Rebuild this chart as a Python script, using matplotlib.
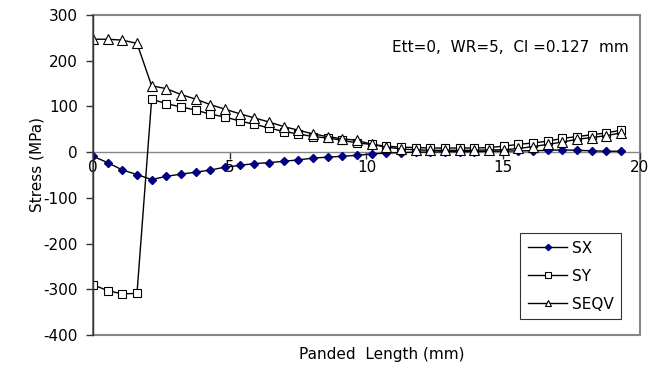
import numpy as np
import matplotlib
matplotlib.use("Agg")
import matplotlib.pyplot as plt
from matplotlib.patches import Rectangle

plt.rcParams['font.family'] = ['DejaVu Sans']
plt.rcParams['axes.unicode_minus'] = False

# Positions along the panded length (mm)
n_points = 37
length_mm = np.arange(n_points) * (19.3 / 36)

sx = [-9, -23, -39, -49, -60, -53, -48, -44, -39, -33, -29, -25, -23, -20, -17, -13, -11, -9, -7, -4,
      -2, -1, 0, 0, 1, 1, 1, 2, 2, 3, 3, 4, 5, 4, 3, 2, 2]
sy = [-290, -303, -310, -309, 116, 106, 99, 92, 83, 77, 68, 61, 53, 45, 40, 34, 31, 26, 20, 17,
      13, 11, 10, 9, 9, 9, 9, 10, 13, 17, 20, 24, 30, 34, 38, 42, 48]
seqv = [247, 247, 245, 238, 145, 139, 126, 116, 104, 94, 84, 75, 66, 56, 48, 40, 34, 29, 26, 17,
        11, 7, 5, 4, 4, 4, 4, 5, 5, 8, 12, 17, 22, 28, 32, 36, 42]

x_ticks = [0, 5, 10, 15, 20]
y_ticks = [-400, -300, -200, -100, 0, 100, 200, 300]

fig = plt.figure(figsize=(6.61, 3.74), dpi=100)
W, H = 661, 374
left, right, top, bottom = 93, 640, 15, 335
ax = fig.add_axes([left / W, 1 - bottom / H, (right - left) / W, (bottom - top) / H])

ax.plot(length_mm, sx, color='black', lw=1.0, marker='D', markersize=4.5,
        markerfacecolor='#000080', markeredgecolor='#000080', label='SX', zorder=3)
ax.plot(length_mm, sy, color='black', lw=1.0, marker='s', markersize=6,
        markerfacecolor='white', markeredgecolor='black', markeredgewidth=0.8, label='SY', zorder=3)
ax.plot(length_mm, seqv, color='black', lw=1.0, marker='^', markersize=7,
        markerfacecolor='white', markeredgecolor='black', markeredgewidth=0.8, label='SEQV', zorder=4)

ax.set_xlim(0, 20)
ax.set_ylim(-400, 300)
ax.set_xticks(x_ticks)
ax.set_yticks(y_ticks)

# Plot-area frame in grey; x axis drawn through zero
frame_color = '#868686'
for s in ('top', 'right'):
    ax.spines[s].set_visible(False)
ax.spines['bottom'].set_position(('data', 0))
ax.spines['bottom'].set_color(frame_color)
ax.spines['bottom'].set_linewidth(1.0)
ax.spines['left'].set_color('#333333')
ax.spines['left'].set_linewidth(1.0)
ax.spines['left'].set_zorder(5)
ax.add_patch(Rectangle((0, 0), 1, 1, transform=ax.transAxes, fill=False,
                       edgecolor=frame_color, lw=1.5, clip_on=False, zorder=1))

ax.tick_params(axis='x', direction='out', length=5, width=1, color='#333333',
               labelsize=11, pad=1)
ax.tick_params(axis='y', direction='out', length=5, width=1, color='#333333',
               labelsize=11, pad=6)

ax.text(0.98, 0.9, 'Ett=0,  WR=5,  Cl =0.127  mm', transform=ax.transAxes,
        ha='right', va='center', fontsize=11)

leg = ax.legend(loc='lower right', bbox_to_anchor=(0.98, 0.025), fontsize=11,
                frameon=True, fancybox=False, edgecolor='black', borderpad=0.5,
                handlelength=2.6, labelspacing=0.85, handletextpad=0.3, markerscale=0.7)
leg.get_frame().set_linewidth(0.8)

fig.text(37 / W, 1 - 165 / H, 'Stress (MPa)', rotation=90, ha='center', va='center', fontsize=11)
fig.text(382 / W, 1 - 355 / H, 'Panded  Length (mm)', ha='center', va='center', fontsize=11)

fig.savefig('out.png', dpi=100)
